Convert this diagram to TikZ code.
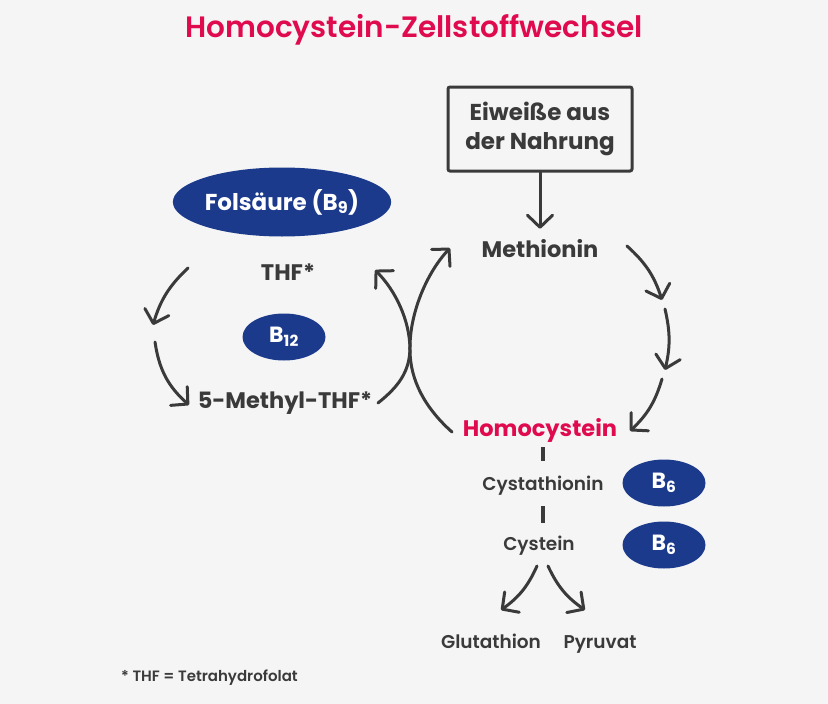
\documentclass[tikz,border=0pt]{standalone}
\usepackage{fontspec}
\setmainfont{Poppins}
\newfontface\semibold{Poppins SemiBold}
\usepackage{xcolor}
\usetikzlibrary{arrows.meta,shapes.geometric}

\definecolor{textgray}{HTML}{3A3A3A}
\definecolor{vitblue}{HTML}{1B3A8C}
\definecolor{homored}{HTML}{E00A4E}
\definecolor{bggray}{HTML}{F5F5F5}

\begin{document}
\begin{tikzpicture}[
    x=1pt, y=-1pt,
    title/.style={font=\semibold\fontsize{29.5}{34}\selectfont, text=homored, inner sep=0pt},
    foodbox/.style={rectangle, draw=textgray, line width=3pt, rounded corners=2pt, minimum width=184pt, minimum height=84pt, align=center, font=\bfseries\fontsize{23}{29}\selectfont, text=textgray},
    label/.style={font=\bfseries\fontsize{22.5}{26}\selectfont, text=textgray, inner sep=0pt, anchor=base},
    small/.style={font=\semibold\fontsize{18.5}{21}\selectfont, text=textgray, inner sep=0pt, anchor=base},
    vitamin/.style={ellipse, fill=vitblue, text=white, inner sep=0pt, minimum width=83pt, minimum height=47pt, font=\bfseries\fontsize{22}{26}\selectfont},
    note/.style={font=\semibold\fontsize{15}{18}\selectfont, text=textgray, inner sep=0pt, anchor=base west},
    arrow/.style={draw=textgray, line width=3pt, line cap=round, -{Straight Barb[length=12pt, width=25pt, round]}},
    bar/.style={draw=textgray, line width=4pt},
]
\fill[bggray] (0,0) rectangle (828,704);
\node[title] (title) at (414,30) {Homocystein-Zellstoffwechsel};

% Methionin cycle
\node[foodbox] (eiweiss) at (540,129) {Eiweiße aus\\der Nahrung};
\node[label] (methionin) at (540,257) {Methionin};
\node[label, text=homored] (homocystein) at (540,436) {Homocystein};
\node[small] (cystathionin) at (543,490) {Cystathionin};
\node[small] (cystein) at (539,550) {Cystein};
\node[small] (glutathion) at (491,648) {Glutathion};
\node[small] (pyruvat) at (600,648) {Pyruvat};
\node[vitamin] (bsixa) at (664,483) {B\textsubscript{6}};
\node[vitamin] (bsixb) at (664,545) {B\textsubscript{6}};

% Folat cycle
\node[vitamin, minimum width=210pt, minimum height=69pt, font=\bfseries\fontsize{23}{27}\selectfont] (folsaeure) at (282,202) {Folsäure (B\textsubscript{9})};
\node[label] (thf) at (288,280) {THF*};
\node[vitamin] (btwelve) at (284,337) {B\textsubscript{12}};
\node[label] (methylthf) at (285,408) {5-Methyl-THF*};

\node[note] (note) at (121,681) {* THF = Tetrahydrofolat};

% arc ends
\coordinate (ma) at (627,246);
\coordinate (mb) at (662,300);
\coordinate (mc) at (665,309);
\coordinate (md) at (665,370);
\coordinate (me) at (662,379);
\coordinate (mf) at (630,431);
\coordinate (fa) at (188,268);
\coordinate (fb) at (153,325);
\coordinate (fc) at (155,342);
\coordinate (fd) at (189,405);
\coordinate (xa) at (378,403);
\coordinate (xb) at (450,248);
\coordinate (ya) at (452,432);
\coordinate (yb) at (375,270);
\coordinate (ca) at (537,566);
\coordinate (cb) at (501,610);
\coordinate (cc) at (548,566);
\coordinate (cd) at (585,610);

\draw[arrow, shorten >=10pt] (eiweiss) -- (methionin);
\draw[arrow] (ma) to[bend left=15] (mb);
\draw[arrow] (mc) to[bend left=13] (md);
\draw[arrow] (me) to[bend left=15] (mf);
\draw[bar, shorten <=5pt, shorten >=14pt] (homocystein.south -| cystathionin.north) -- (cystathionin.north);
\draw[bar, shorten <=11pt, shorten >=12pt] (cystathionin.south) -- (cystathionin.south |- cystein.north);
\draw[arrow] (ca) to[bend left=15] (cb);
\draw[arrow] (cc) to[bend right=15] (cd);

\draw[arrow] (fa) to[bend right=15] (fb);
\draw[arrow] (fc) to[bend right=20] (fd);
\draw[arrow] (xa) .. controls (398,387) and (410,372) .. (410,347) .. controls (410,315) and (425,275) .. (xb);
\draw[arrow] (ya) .. controls (425,408) and (410,380) .. (410,350) .. controls (410,320) and (395,290) .. (yb);
\end{tikzpicture}
\end{document}
